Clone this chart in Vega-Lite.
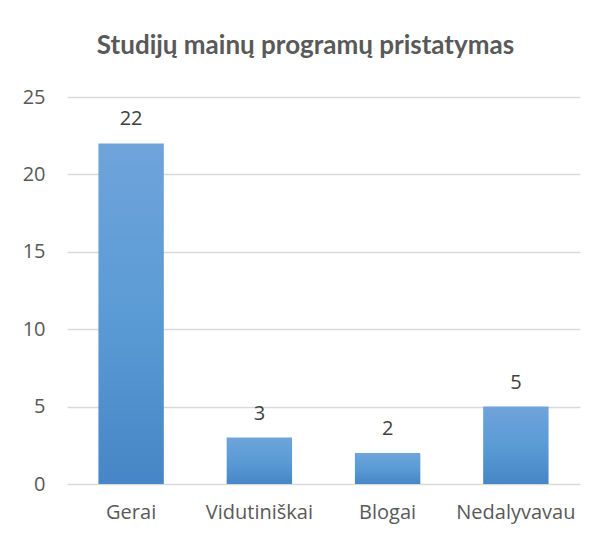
{
  "$schema": "https://vega.github.io/schema/vega-lite/v6.json",
  "autosize": {"type": "none"},
  "width": 513,
  "height": 387,
  "padding": {"left": 67, "top": 97, "right": 27, "bottom": 55},
  "background": "white",
  "title": {
    "text": "Studijų mainų programų pristatymas",
    "font": "Lato",
    "fontSize": 26,
    "fontWeight": "bold",
    "color": "#595959",
    "anchor": "middle",
    "dx": -18,
    "offset": 28
  },
  "data": {
    "values": [
      {"cat": "Gerai", "v": 22},
      {"cat": "Vidutiniškai", "v": 3},
      {"cat": "Blogai", "v": 2},
      {"cat": "Nedalyvavau", "v": 5}
    ]
  },
  "encoding": {
    "x": {
      "field": "cat",
      "type": "nominal",
      "sort": null,
      "scale": {"paddingInner": 0.49, "paddingOuter": 0.245},
      "axis": {
        "title": null,
        "labelAngle": 0,
        "labelFont": "Open Sans",
        "labelFontSize": 20,
        "labelColor": "#595959",
        "labelPadding": 18,
        "ticks": false,
        "domain": false
      }
    },
    "y": {
      "field": "v",
      "type": "quantitative",
      "scale": {"domain": [0, 25]},
      "axis": {
        "title": null,
        "values": [0, 5, 10, 15, 20, 25],
        "labelFont": "Open Sans",
        "labelFontSize": 20,
        "labelColor": "#595959",
        "labelPadding": 22,
        "ticks": false,
        "domain": false,
        "gridColor": "#d9d9d9",
        "gridWidth": 1.5
      }
    }
  },
  "layer": [
    {
      "mark": {
        "type": "bar",
        "color": {
          "gradient": "linear",
          "x1": 0, "y1": 0, "x2": 0, "y2": 1,
          "stops": [
            {"offset": 0, "color": "#6ea4da"},
            {"offset": 0.5, "color": "#5b9bd5"},
            {"offset": 1, "color": "#4686c6"}
          ]
        }
      }
    },
    {
      "mark": {
        "type": "text",
        "baseline": "alphabetic",
        "dy": -18,
        "font": "Open Sans",
        "fontSize": 20,
        "color": "#404040"
      },
      "encoding": {"text": {"field": "v", "type": "quantitative"}}
    }
  ],
  "config": {"view": {"stroke": null}}
}
